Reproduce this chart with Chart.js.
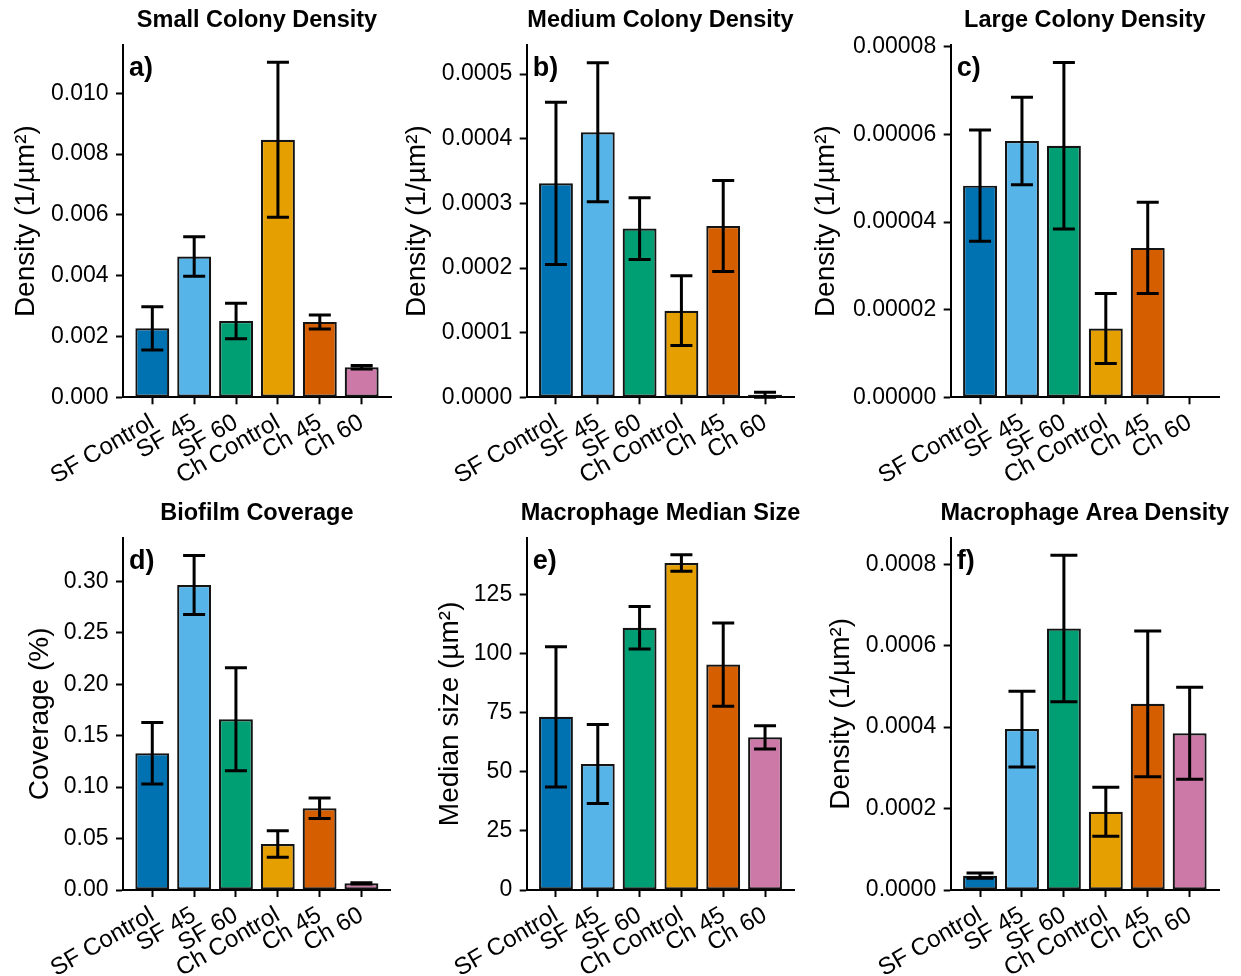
<!DOCTYPE html>
<html>
<head>
<meta charset="utf-8">
<title>Colony, biofilm and macrophage measurements</title>
<script src="https://cdn.jsdelivr.net/npm/chart.js@4/dist/chart.umd.min.js"></script>
<style>
  html, body { margin: 0; padding: 0; background: #ffffff; }
  #figure { position: relative; width: 1241px; height: 976px; overflow: hidden; }
  #figure canvas { position: absolute; left: 0; top: 0; }
</style>
</head>
<body>
<div id="figure"></div>
<script>
// Groups shown on every panel
const categories = ['SF Control', 'SF 45', 'SF 60', 'Ch Control', 'Ch 45', 'Ch 60'];
const groupColors = ['#0072B2', '#56B4E9', '#009E73', '#E69F00', '#D55E00', '#CC79A7'];

// a) Small colony density (1/µm²): mean and error half-width
const smallMean = [0.00227, 0.00463, 0.00251, 0.00847, 0.00248, 0.00099];
const smallErr  = [0.00071, 0.00065, 0.00058, 0.00255, 0.00023, 0.00006];
const smallTicks = [0, 0.002, 0.004, 0.006, 0.008, 0.010];

// b) Medium colony density (1/µm²)
const mediumMean = [0.000331, 0.000410, 0.000261, 0.000134, 0.000265, 0.000004];
const mediumErr  = [0.0001255, 0.0001075, 0.0000477, 0.000054, 0.0000705, 0.000004];
const mediumTicks = [0, 0.0001, 0.0002, 0.0003, 0.0004, 0.0005];

// c) Large colony density (1/µm²)
const largeMean = [0.0000483, 0.0000585, 0.0000574, 0.0000157, 0.0000341, 0];
const largeErr  = [0.0000127, 0.0000100, 0.0000190, 0.0000080, 0.0000104, 0];
const largeTicks = [0, 0.00002, 0.00004, 0.00006, 0.00008];

// d) Biofilm coverage (%)
const coverageMean = [0.1329, 0.2965, 0.1659, 0.0447, 0.0794, 0.0065];
const coverageErr  = [0.0298, 0.0287, 0.0500, 0.0128, 0.0099, 0.0006];
const coverageTicks = [0, 0.05, 0.10, 0.15, 0.20, 0.25, 0.30];

// e) Macrophage median size (µm²)
const sizeMean = [73.3, 53.3, 111.0, 138.4, 95.4, 64.6];
const sizeErr  = [29.7, 16.7, 9.0, 3.5, 17.6, 4.9];
const sizeTicks = [0, 25, 50, 75, 100, 125];

// f) Macrophage area density (1/µm²)
const areaMean = [0.0000351, 0.000395, 0.000642, 0.000192, 0.000457, 0.000385];
const areaErr  = [0.0000065, 0.000093, 0.000180, 0.000060, 0.000179, 0.000113];
const areaTicks = [0, 0.0002, 0.0004, 0.0006, 0.0008];

const FONT = "'Liberation Sans', Arial, Helvetica, sans-serif";

// Panel definitions: text, data and where each plot area sits on the page
const panels = [
  { title: 'Small Colony Density', letter: 'a)', yTitle: 'Density (1/µm²)',
    mean: smallMean, err: smallErr, ticks: smallTicks, decimals: 3, yMax: 0.01159,
    box: { L: 123, T: 45, R: 391, B: 397.3 }, yTitleX: 26.7, cap: 22 },
  { title: 'Medium Colony Density', letter: 'b)', yTitle: 'Density (1/µm²)',
    mean: mediumMean, err: mediumErr, ticks: mediumTicks, decimals: 4, yMax: 0.000545,
    box: { L: 526.7, T: 45, R: 794.3, B: 397.3 }, yTitleX: 417, cap: 22 },
  { title: 'Large Colony Density', letter: 'c)', yTitle: 'Density (1/µm²)',
    mean: largeMean, err: largeErr, ticks: largeTicks, decimals: 5, yMax: 0.0000804,
    box: { L: 950.7, T: 45, R: 1219, B: 397.3 }, yTitleX: 826, cap: 22 },
  { title: 'Biofilm Coverage', letter: 'd)', yTitle: 'Coverage (%)',
    mean: coverageMean, err: coverageErr, ticks: coverageTicks, decimals: 2, yMax: 0.3424,
    box: { L: 123, T: 537.7, R: 390.7, B: 890 }, yTitleX: 40, cap: 22 },
  { title: 'Macrophage Median Size', letter: 'e)', yTitle: 'Median size (µm²)',
    mean: sizeMean, err: sizeErr, ticks: sizeTicks, decimals: 0, yMax: 149.1,
    box: { L: 526.7, T: 537.7, R: 794.3, B: 890 }, yTitleX: 450, cap: 22 },
  { title: 'Macrophage Area Density', letter: 'f)', yTitle: 'Density (1/µm²)',
    mean: areaMean, err: areaErr, ticks: areaTicks, decimals: 4, yMax: 0.000865,
    box: { L: 950.7, T: 537.7, R: 1219, B: 890 }, yTitleX: 841, cap: 27 }
];

const PAGE_W = 1241, PAGE_H = 976;
const X_AXIS_H = 84;
const Y_TITLE_SIZE = 28;

// Error bars, panel title and panel letter, drawn on top of the bars
function panelDecorations(p) {
  return {
    id: 'panelDecorations',
    afterDatasetsDraw(chart) {
      const { ctx, chartArea } = chart;
      const xs = chart.scales.x, ys = chart.scales.y;
      ctx.save();
      ctx.strokeStyle = '#000000';
      ctx.lineWidth = 3;
      ctx.lineCap = 'butt';
      p.mean.forEach((m, i) => {
        const e = p.err[i];
        if (!e) return;
        const px = xs.getPixelForValue(i);
        const yTop = ys.getPixelForValue(m + e);
        const yBot = ys.getPixelForValue(Math.max(m - e, 0));
        const h = p.cap / 2;
        ctx.beginPath();
        ctx.moveTo(px, yTop); ctx.lineTo(px, yBot);
        ctx.moveTo(px - h, yTop); ctx.lineTo(px + h, yTop);
        ctx.moveTo(px - h, yBot); ctx.lineTo(px + h, yBot);
        ctx.stroke();
      });
      ctx.fillStyle = '#000000';
      ctx.font = 'bold 23.5px ' + FONT;
      ctx.textAlign = 'center';
      ctx.textBaseline = 'alphabetic';
      ctx.fillText(p.title, (chartArea.left + chartArea.right) / 2, chartArea.top - 18);
      ctx.font = 'bold 27px ' + FONT;
      ctx.textAlign = 'left';
      ctx.textBaseline = 'middle';
      ctx.fillText(p.letter, chartArea.left + 6, chartArea.top + 24);
      ctx.restore();
    }
  };
}

const figure = document.getElementById('figure');

panels.forEach((p) => {
  const canvas = document.createElement('canvas');
  canvas.width = PAGE_W;
  canvas.height = PAGE_H;
  canvas.style.width = PAGE_W + 'px';
  canvas.style.height = PAGE_H + 'px';
  figure.appendChild(canvas);

  const padLeft = p.yTitleX - (Y_TITLE_SIZE * 1.2) / 2;
  const yWidth = p.box.L - padLeft;

  new Chart(canvas.getContext('2d'), {
    type: 'bar',
    data: {
      datasets: [{
        data: categories.map((c, i) => ({ x: i, y: p.mean[i] })),
        backgroundColor: groupColors,
        borderColor: '#141414',
        borderWidth: 2.2,
        borderSkipped: false,
        barPercentage: 0.81,
        categoryPercentage: 1.0
      }]
    },
    options: {
      responsive: false,
      animation: false,
      devicePixelRatio: 1,
      layout: {
        padding: {
          left: padLeft,
          top: p.box.T,
          right: PAGE_W - p.box.R,
          bottom: PAGE_H - p.box.B - X_AXIS_H
        }
      },
      plugins: {
        legend: { display: false },
        tooltip: { enabled: false },
        title: { display: false }
      },
      scales: {
        x: {
          type: 'linear',
          offset: false,
          min: -0.7,
          max: 5.7,
          afterBuildTicks: (s) => { s.ticks = categories.map((c, i) => ({ value: i })); },
          afterFit: (s) => { s.height = X_AXIS_H; },
          grid: {
            display: true, offset: false, drawOnChartArea: false, drawTicks: true,
            tickLength: 7, tickWidth: 2, tickColor: '#000000', color: '#000000'
          },
          border: { display: true, color: '#000000', width: 2 },
          ticks: {
            autoSkip: false,
            minRotation: 30,
            maxRotation: 30,
            padding: 4,
            color: '#000000',
            font: { family: FONT, size: 24 },
            callback: (v, i) => categories[i]
          }
        },
        y: {
          type: 'linear',
          min: 0,
          max: p.yMax,
          afterBuildTicks: (s) => { s.ticks = p.ticks.map((v) => ({ value: v })); },
          afterFit: (s) => { s.width = yWidth; },
          grid: {
            display: true, drawOnChartArea: false, drawTicks: true,
            tickLength: 7, tickWidth: 2, tickColor: '#000000', color: '#000000'
          },
          border: { display: true, color: '#000000', width: 2 },
          ticks: {
            padding: 7.5,
            color: '#000000',
            font: { family: FONT, size: 23 },
            callback: (v) => Number(v).toFixed(p.decimals)
          },
          title: {
            display: true,
            text: p.yTitle,
            color: '#000000',
            font: { family: FONT, size: Y_TITLE_SIZE },
            padding: { top: 0, bottom: 0 }
          }
        }
      }
    },
    plugins: [panelDecorations(p)]
  });
});
</script>
</body>
</html>
